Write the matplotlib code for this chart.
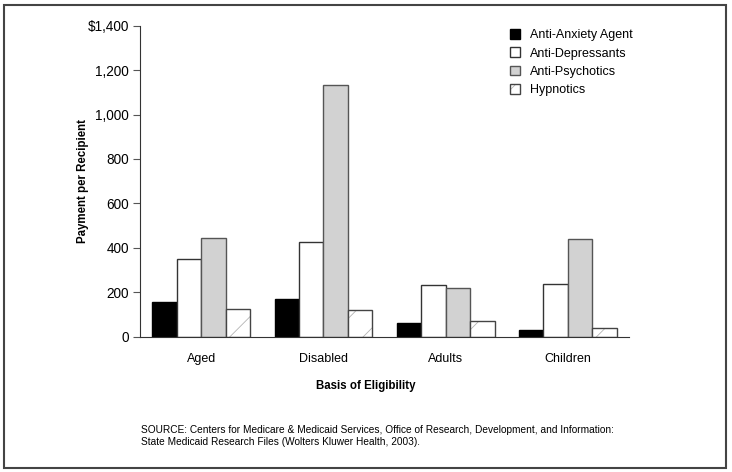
import matplotlib.pyplot as plt
import matplotlib.patches as mpatches
import numpy as np

plt.rcParams['font.family'] = ['Liberation Sans', 'DejaVu Sans']
plt.rcParams['hatch.linewidth'] = 0.6

groups = ['Aged', 'Disabled', 'Adults', 'Children']
drug_classes = ['Anti-Anxiety Agent', 'Anti-Depressants', 'Anti-Psychotics', 'Hypnotics']

anti_anxiety = [155, 168, 62, 29]
anti_depressants = [348, 425, 231, 236]
anti_psychotics = [446, 1135, 218, 438]
hypnotics = [125, 119, 71, 38]

yticks = [0, 200, 400, 600, 800, 1000, 1200, 1400]
ytick_labels = ['0', '200', '400', '600', '800', '1,000', '1,200', '$1,400']

series = [anti_anxiety, anti_depressants, anti_psychotics, hypnotics]
faces = ['black', 'white', '#d2d2d2', 'white']
edges = ['black', '#333333', '#555555', '#444444']
hatches = [None, None, None, '/']

fig = plt.figure(figsize=(7.32, 4.72), dpi=100)
ax = fig.add_axes([0.1913, 0.2867, 0.668, 0.6589])

x = np.arange(len(groups))
w = 0.2
for i, vals in enumerate(series):
    b = ax.bar(x + (i - 1.5) * w, vals, w, color=faces[i], edgecolor=edges[i],
               linewidth=1.0, label=drug_classes[i], hatch=hatches[i])
    if hatches[i]:
        for p in b:
            p._hatch_color = (0.7, 0.7, 0.7, 1.0)

ax.set_xlim(-0.5, 3.5)
ax.set_ylim(0, 1400)
ax.set_yticks(yticks)
ax.set_yticklabels(ytick_labels, fontsize=9.8)
ax.set_xticks(x)
ax.set_xticklabels(groups, fontsize=9)
ax.tick_params(axis='x', length=0, pad=12)
ax.tick_params(axis='y', length=5, width=0.8, color='#555555', pad=3)
for s in ['top', 'right']:
    ax.spines[s].set_visible(False)
ax.spines['left'].set_color('#333333')
ax.spines['bottom'].set_color('#333333')
ax.set_ylabel('Payment per Recipient', fontsize=8.3, fontweight='bold')
ax.yaxis.set_label_coords((89 - 140) / (0.668 * 732), 0.5)

fig.text(0.5, 1 - 386 / 472, 'Basis of Eligibility', ha='center', va='center',
         fontsize=8.3, fontweight='bold')
fig.text(141 / 732, 1 - 436 / 472,
         'SOURCE: Centers for Medicare & Medicaid Services, Office of Research, Development, and Information:\n'
         'State Medicaid Research Files (Wolters Kluwer Health, 2003).',
         ha='left', va='center', fontsize=7.3, linespacing=1.35)

leg = ax.legend(loc='upper left', bbox_to_anchor=(505 / 732, 1 - 24 / 472),
                bbox_transform=fig.transFigure, frameon=False, fontsize=9,
                handlelength=0.8, handleheight=0.8, handletextpad=0.8,
                labelspacing=0.5, borderaxespad=0)

fig.patches.append(mpatches.Rectangle((4 / 732, 1 - 468 / 472), 722 / 732, 463 / 472,
                                      transform=fig.transFigure, fill=False,
                                      edgecolor='#444444', linewidth=1.5))

fig.savefig('out.png', dpi=100)
